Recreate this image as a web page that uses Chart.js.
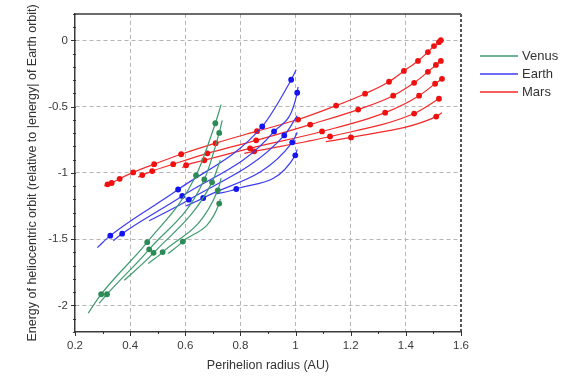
<!DOCTYPE html>
<html>
<head>
<meta charset="utf-8">
<script src="https://cdn.jsdelivr.net/npm/chart.js@4.4.0/dist/chart.umd.min.js"></script>
<style>
    html, body { margin: 0; padding: 0; background: #fff; }
</style>
</head>
<body>
<canvas id="orbitChart" width="570" height="378"></canvas>
<script>
// Flyby curves: perihelion radius (AU) -> orbit energy, one row per curve
const venusRadius = [
    [0.248, 0.295, 0.462, 0.639, 0.709, 0.730],
    [0.288, 0.316, 0.469, 0.669, 0.723, 0.734],
    [0.379, 0.485, 0.697, 0.727],
    [0.466, 0.518, 0.718, 0.730],
    [0.538, 0.591, 0.723, 0.727]
];
const venusEnergy = [
    [-2.058, -1.915, -1.522, -1.019, -0.625, -0.485],
    [-1.983, -1.915, -1.576, -1.049, -0.698, -0.604],
    [-1.810, -1.603, -1.071, -0.904],
    [-1.683, -1.597, -1.131, -1.039],
    [-1.608, -1.518, -1.231, -1.196]
];
const venusMarked = [
    [0, 1, 1, 1, 1, 0],
    [0, 1, 1, 1, 1, 0],
    [0, 1, 1, 0],
    [0, 1, 1, 0],
    [0, 1, 1, 0]
];

const earthRadius = [
    [0.281, 0.328, 0.574, 0.879, 0.984, 1.002],
    [0.339, 0.371, 0.589, 0.922, 1.006, 1.009],
    [0.469, 0.613, 0.959, 1.006],
    [0.603, 0.665, 0.988, 1.006],
    [0.709, 0.785, 0.999, 1.006]
];
const earthEnergy = [
    [-1.563, -1.473, -1.125, -0.649, -0.297, -0.222],
    [-1.511, -1.458, -1.174, -0.687, -0.395, -0.350],
    [-1.361, -1.202, -0.717, -0.567],
    [-1.249, -1.189, -0.769, -0.694],
    [-1.159, -1.121, -0.867, -0.822]
];
const earthMarked = [
    [0, 1, 1, 1, 1, 0],
    [0, 1, 1, 1, 1, 0],
    [0, 1, 1, 0],
    [0, 1, 1, 0],
    [0, 1, 1, 0]
];

const marsRadius = [
    [0.306, 0.318, 0.333, 0.362, 0.411, 0.487, 0.585, 0.710, 0.860, 1.009, 1.147, 1.252, 1.339, 1.393, 1.444, 1.480, 1.502, 1.520, 1.527],
    [0.429, 0.444, 0.480, 0.556, 0.680, 0.857, 1.053, 1.227, 1.354, 1.430, 1.480, 1.509, 1.527],
    [0.589, 0.603, 0.669, 0.835, 1.096, 1.325, 1.448, 1.506, 1.531],
    [0.814, 0.850, 1.125, 1.430, 1.520],
    [1.110, 1.201, 1.510, 1.531]
];
const marsEnergy = [
    [-1.099, -1.086, -1.076, -1.044, -0.996, -0.934, -0.859, -0.775, -0.685, -0.597, -0.492, -0.402, -0.312, -0.230, -0.155, -0.088, -0.043, -0.013, 0.002],
    [-1.031, -1.016, -0.986, -0.934, -0.852, -0.754, -0.635, -0.522, -0.417, -0.320, -0.237, -0.185, -0.155],
    [-0.960, -0.942, -0.904, -0.814, -0.687, -0.545, -0.417, -0.327, -0.290],
    [-0.852, -0.837, -0.725, -0.552, -0.440],
    [-0.764, -0.732, -0.575, -0.545]
];
const marsMarked = [
    [0, 1, 1, 1, 1, 1, 1, 1, 1, 1, 1, 1, 1, 1, 1, 1, 1, 1, 1],
    [0, 1, 1, 1, 1, 1, 1, 1, 1, 1, 1, 1, 1],
    [0, 1, 1, 1, 1, 1, 1, 1, 1],
    [0, 1, 1, 1, 1],
    [0, 1, 1, 0]
];

// Axis ticks (every 0.1, labelled on the majors)
const xTicks = [0.2, 0.3, 0.4, 0.5, 0.6, 0.7, 0.8, 0.9, 1.0, 1.1, 1.2, 1.3, 1.4, 1.5, 1.6];
const yTicks = [-2.2, -2.1, -2.0, -1.9, -1.8, -1.7, -1.6, -1.5, -1.4, -1.3, -1.2, -1.1, -1.0,
                -0.9, -0.8, -0.7, -0.6, -0.5, -0.4, -0.3, -0.2, -0.1, 0.0, 0.1, 0.2];

const planets = [
    { label: 'Venus', radius: venusRadius, energy: venusEnergy, marked: venusMarked, line: '#3f9a6e', dot: '#2b8a55' },
    { label: 'Earth', radius: earthRadius, energy: earthEnergy, marked: earthMarked, line: '#3b3bf5', dot: '#1414f0' },
    { label: 'Mars', radius: marsRadius, energy: marsEnergy, marked: marsMarked, line: '#f52a2a', dot: '#f01010' }
];

function isMajor(v, step) {
    return Math.abs(v / step - Math.round(v / step)) < 1e-6;
}

// Build one line dataset per curve
const datasets = [];
planets.forEach(p => {
    p.radius.forEach((xs, i) => {
        datasets.push({
            label: p.label,
            data: xs.map((x, j) => ({ x: x, y: p.energy[i][j] })),
            showLine: true,
            borderColor: p.line,
            borderWidth: 1.2,
            backgroundColor: p.dot,
            pointBackgroundColor: p.dot,
            pointBorderWidth: 0,
            pointRadius: p.marked[i].map(m => m ? 2.9 : 0),
            pointHoverRadius: 0,
            cubicInterpolationMode: 'monotone'
        });
    });
});

// Frame, minor/major tick marks and the legend on the right
const framePlugin = {
    id: 'frame',
    afterDraw(chart) {
        const { ctx, chartArea: a, scales } = chart;
        const xs = scales.x, ys = scales.y;
        ctx.save();

        ctx.strokeStyle = '#3a3a3a';
        ctx.lineWidth = 1.5;
        ctx.beginPath();
        ctx.moveTo(a.left, a.top);
        ctx.lineTo(a.right, a.top);
        ctx.stroke();

        ctx.setLineDash([3, 2]);
        ctx.lineWidth = 2;
        ctx.strokeStyle = '#555';
        ctx.beginPath();
        ctx.moveTo(a.right, a.top);
        ctx.lineTo(a.right, a.bottom);
        ctx.stroke();
        ctx.setLineDash([]);

        ctx.strokeStyle = '#333';
        ctx.lineWidth = 1;
        xs.ticks.forEach(t => {
            const px = Math.round(xs.getPixelForValue(t.value)) + 0.5;
            const len = isMajor(t.value, 0.2) ? 4 : 2;
            ctx.beginPath();
            ctx.moveTo(px, a.bottom - 1);
            ctx.lineTo(px, a.bottom + len);
            ctx.stroke();
        });
        ys.ticks.forEach(t => {
            const py = Math.round(ys.getPixelForValue(t.value)) + 0.5;
            const len = isMajor(t.value, 0.5) ? 4 : 2;
            ctx.beginPath();
            ctx.moveTo(a.left + 1, py);
            ctx.lineTo(a.left - len, py);
            ctx.stroke();
        });

        ctx.font = '13px "Liberation Sans", Arial, sans-serif';
        ctx.textBaseline = 'middle';
        ctx.textAlign = 'left';
        planets.forEach((p, i) => {
            const y = 56 + i * 18;
            ctx.strokeStyle = p.line;
            ctx.lineWidth = 1.5;
            ctx.beginPath();
            ctx.moveTo(480, y);
            ctx.lineTo(518, y);
            ctx.stroke();
            ctx.fillStyle = '#333';
            ctx.fillText(p.label, 522, y);
        });
        ctx.restore();
    }
};

const tickFont = { family: '"Liberation Sans", Arial, sans-serif', size: 11.5 };
const titleFont = { family: '"Liberation Sans", Arial, sans-serif', size: 12.5 };

new Chart(document.getElementById('orbitChart'), {
    type: 'scatter',
    data: { datasets: datasets },
    options: {
        responsive: false,
        animation: false,
        events: [],
        layout: { padding: { left: 0, right: 109, top: 11, bottom: 0 } },
        plugins: {
            legend: { display: false },
            tooltip: { enabled: false }
        },
        scales: {
            x: {
                type: 'linear',
                min: 0.2,
                max: 1.6,
                afterBuildTicks: s => { s.ticks = xTicks.map(v => ({ value: v })); },
                afterFit: s => { s.height = 46; },
                ticks: {
                    autoSkip: false,
                    maxRotation: 0,
                    padding: 7,
                    color: '#3a3a3a',
                    font: tickFont,
                    callback: v => isMajor(v, 0.2) ? String(Math.round(v * 10) / 10) : ''
                },
                grid: {
                    drawTicks: false,
                    lineWidth: 1,
                    color: c => (c.tick && isMajor(c.tick.value, 0.2) && c.tick.value > 0.25 && c.tick.value < 1.55) ? '#b5b5b5' : 'rgba(0,0,0,0)'
                },
                border: { color: '#3a3a3a', width: 1.5, dash: [4, 3] },
                title: {
                    display: true,
                    text: 'Perihelion radius (AU)',
                    color: '#333',
                    font: titleFont,
                    padding: { top: 0, bottom: 5 }
                }
            },
            y: {
                type: 'linear',
                min: -2.2,
                max: 0.2,
                afterBuildTicks: s => { s.ticks = yTicks.map(v => ({ value: v })); },
                afterFit: s => { s.width = 75; },
                ticks: {
                    autoSkip: false,
                    padding: 7,
                    color: '#3a3a3a',
                    font: tickFont,
                    callback: v => isMajor(v, 0.5) ? String(Math.round(v * 10) / 10 + 0) : ''
                },
                grid: {
                    drawTicks: false,
                    lineWidth: 1,
                    color: c => (c.tick && isMajor(c.tick.value, 0.5) && c.tick.value > -2.15 && c.tick.value < 0.15) ? '#b5b5b5' : 'rgba(0,0,0,0)'
                },
                border: { color: '#3a3a3a', width: 1.5, dash: [4, 3] },
                title: {
                    display: true,
                    text: 'Energy of heliocentric orbit (relative to |energy| of Earth orbit)',
                    color: '#333',
                    font: titleFont,
                    padding: { top: 25, bottom: 0 }
                }
            }
        }
    },
    plugins: [framePlugin]
});
</script>
</body>
</html>
